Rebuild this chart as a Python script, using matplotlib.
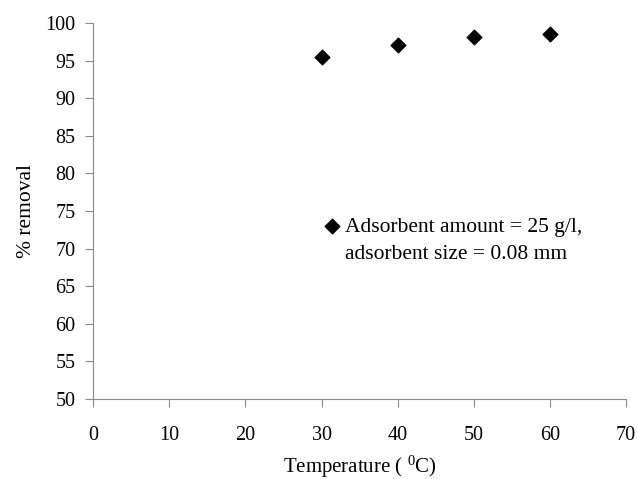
import matplotlib
matplotlib.use("Agg")
import matplotlib.pyplot as plt
from matplotlib.lines import Line2D

plt.rcParams["font.family"] = ["Liberation Serif", "DejaVu Serif"]
plt.rcParams["mathtext.fontset"] = "custom"
plt.rcParams["mathtext.rm"] = "Liberation Serif"

temperature = [30, 40, 50, 60]
removal = [95.5, 97.1, 98.1, 98.5]
series_label = ["Adsorbent amount = 25 g/l,", "adsorbent size = 0.08 mm"]

fig = plt.figure(figsize=(6.37, 4.79), dpi=100)
ax = fig.add_axes([0.146, 0.167, 0.837, 0.785])

pts = ax.scatter(temperature, removal, marker="D", s=55, color="black",
                 zorder=3)

ax.set_xlim(0, 70)
ax.set_ylim(50, 100)
ax.set_xticks(range(0, 71, 10))
ax.set_yticks(range(50, 101, 5))
ax.tick_params(labelsize=14.5, length=5.5, width=0.8, color="#888888")
ax.tick_params(axis="x", pad=14)
ax.tick_params(axis="y", pad=7)
for side in ("top", "right"):
    ax.spines[side].set_visible(False)
for side in ("left", "bottom"):
    ax.spines[side].set_color("#888888")
    ax.spines[side].set_linewidth(0.8)

ax.set_xlabel(r"Temperature ( $\mathrm{^{0}}$C)", fontsize=15, labelpad=6)
ax.set_ylabel("% removal", fontsize=15.5, labelpad=7)

# second legend line shares the marker column, so use a blank handle
blank = Line2D([], [], linestyle="none", marker="none")
ax.legend([pts, blank], series_label, loc="upper left",
          bbox_to_anchor=(0.428, 0.484), frameon=False, fontsize=15.5,
          handletextpad=0.1, handlelength=1.0, labelspacing=0.3,
          borderpad=0, borderaxespad=0)

fig.savefig("out.png", dpi=100)
